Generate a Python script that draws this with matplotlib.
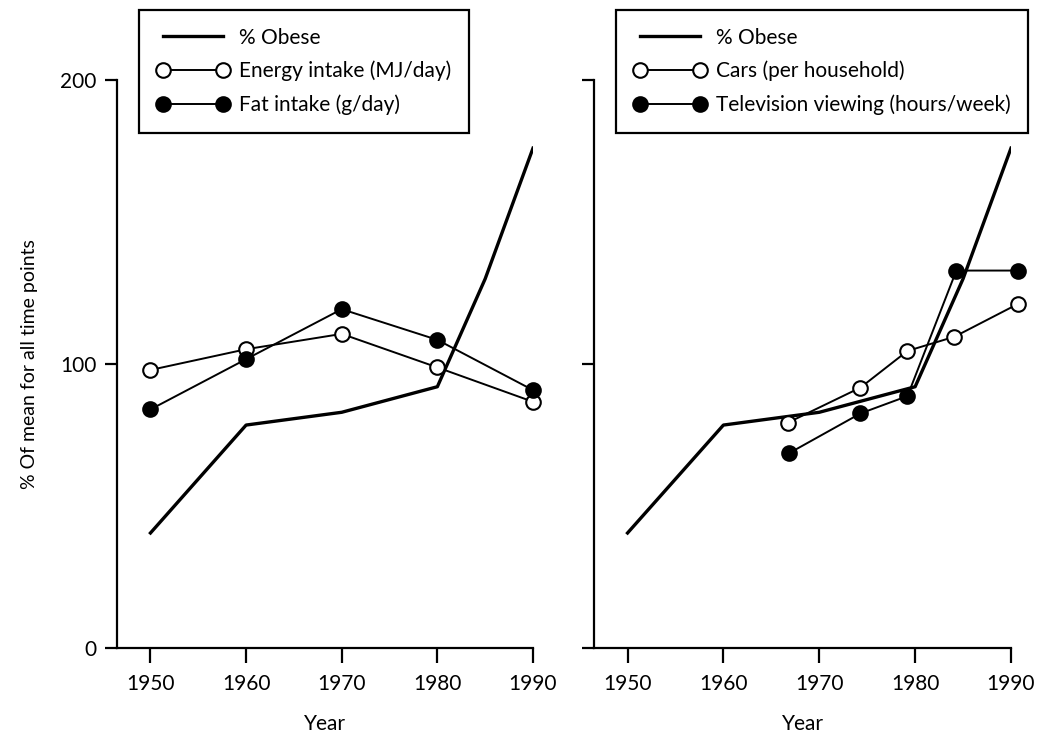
import matplotlib
matplotlib.use('Agg')
import matplotlib.pyplot as plt

plt.rcParams['font.family'] = ['Lato', 'DejaVu Sans']

# --- Datos ---
obese_years = [1950, 1960, 1970, 1980, 1985, 1990]
obese_vals = [40.5, 78.5, 83, 92, 130, 176]

diet_years = [1950, 1960, 1970, 1980, 1990]
energy_vals = [97.9, 105.2, 110.6, 98.8, 86.7]
fat_vals = [84.0, 101.7, 119.3, 108.5, 90.8]

act_years = [1966.7, 1974.3, 1979.2, 1984.1, 1990.7]
cars_vals = [79.3, 91.7, 104.6, 109.6, 121.1]
tv_years = [1966.8, 1974.3, 1979.2, 1984.3, 1990.7]
tv_vals = [68.5, 82.6, 88.7, 132.9, 132.9]

xticks = [1950, 1960, 1970, 1980, 1990]
yticks = [0, 100, 200]

fs = 15

fig = plt.figure(figsize=(10.44, 7.35), dpi=100)
ax1 = fig.add_axes([117/1044, 1-648/735, 416/1044, 568/735])
ax2 = fig.add_axes([594/1044, 1-648/735, 417/1044, 568/735])

open_kw = dict(color='black', linewidth=1.4, marker='o', markersize=10.5,
               markerfacecolor='white', markeredgecolor='black',
               markeredgewidth=1.5, clip_on=False, zorder=3)
fill_kw = dict(color='black', linewidth=1.4, marker='o', markersize=10.5,
               markerfacecolor='black', markeredgecolor='black',
               markeredgewidth=1.5, clip_on=False, zorder=3)

# Panel 1: dieta
l0, = ax1.plot(obese_years, obese_vals, color='black', linewidth=2.4, label='% Obese', zorder=2)
l1, = ax1.plot(diet_years, energy_vals, label='Energy intake (MJ/day)', **open_kw)
l2, = ax1.plot(diet_years, fat_vals, label='Fat intake (g/day)', **fill_kw)

# Panel 2: actividad
m0, = ax2.plot(obese_years, obese_vals, color='black', linewidth=2.4, label='% Obese', zorder=2)
m1, = ax2.plot(act_years, cars_vals, label='Cars (per household)', **open_kw)
m2, = ax2.plot(tv_years, tv_vals, label='Television viewing (hours/week)', **fill_kw)

for ax in (ax1, ax2):
    ax.set_xlim(1946.5, 1990)
    ax.set_ylim(0, 200)
    ax.set_xticks(xticks)
    ax.set_yticks(yticks)
    for s in ('top', 'right'):
        ax.spines[s].set_visible(False)
    for s in ('left', 'bottom'):
        ax.spines[s].set_linewidth(1.6)
    ax.tick_params(axis='x', direction='out', length=11, width=1.6, labelsize=fs, pad=8)
    ax.tick_params(axis='y', direction='out', length=8.5, width=1.6, labelsize=fs, pad=6)
    ax.set_xlabel('Year', fontsize=fs, labelpad=14)

ax2.set_yticklabels([])
ax1.set_ylabel('% Of mean for all time points', fontsize=14, labelpad=16)

leg_kw = dict(loc='upper left', bbox_transform=fig.transFigure, fontsize=fs,
              frameon=True, fancybox=False, edgecolor='black', framealpha=1,
              numpoints=2, handlelength=3.5, borderaxespad=0, labelspacing=0.64,
              handletextpad=0.45, borderpad=0.84)
lg1 = ax1.legend(handles=[l0, l1, l2], bbox_to_anchor=(139/1044, 1-10/735), **leg_kw)
lg2 = ax2.legend(handles=[m0, m1, m2], bbox_to_anchor=(616/1044, 1-10/735), **leg_kw)
for lg in (lg1, lg2):
    lg.get_frame().set_linewidth(1.6)

fig.savefig('out.png', dpi=100)
